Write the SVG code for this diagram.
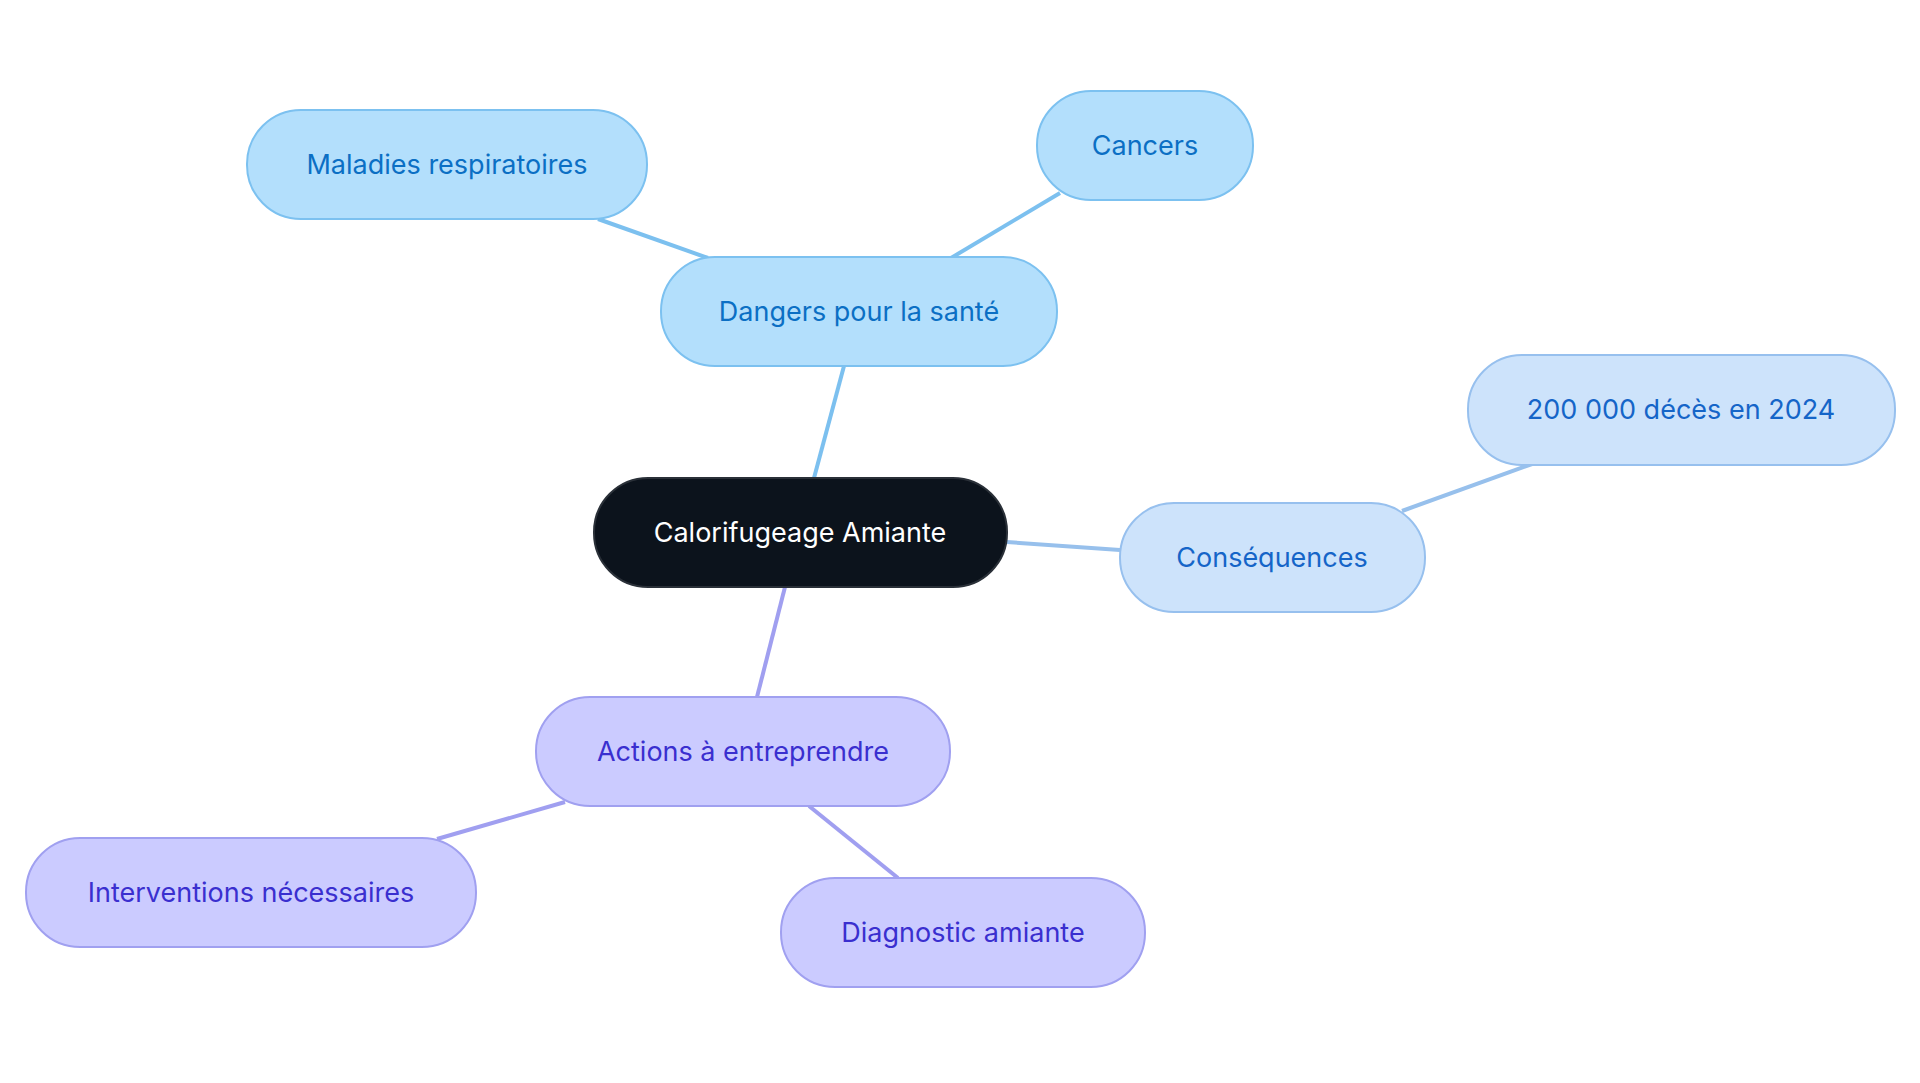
<svg xmlns="http://www.w3.org/2000/svg" width="1920" height="1083" viewBox="0 0 1920 1083">
<style>
text{font-family:Inter,"Noto Sans",sans-serif;font-size:27px;text-anchor:middle;dominant-baseline:central}
.b rect{fill:#b3dffc;stroke:#7cc1f0;stroke-width:2}.b text{fill:#0b6fc4}
.c rect{fill:#cde3fb;stroke:#97c0ee;stroke-width:2}.c text{fill:#1565c8}
.p rect{fill:#cbcbff;stroke:#a0a0f0;stroke-width:2}.p text{fill:#3a2fcf}
.e line{stroke-width:4}
</style>
<rect width="1920" height="1083" fill="#fff"/>
<g id="connectors" class="e">
<line x1="814" y1="478" x2="844" y2="366" stroke="#7cc0ef"/>
<line x1="708" y1="258" x2="598" y2="219" stroke="#7cc0ef"/>
<line x1="951" y1="258" x2="1060" y2="193" stroke="#7cc0ef"/>
<line x1="1007" y1="542" x2="1120" y2="550" stroke="#97c0ec"/>
<line x1="1402" y1="511" x2="1532" y2="464" stroke="#97c0ec"/>
<line x1="785" y1="587" x2="757" y2="697" stroke="#a09ff0"/>
<line x1="565" y1="802" x2="437" y2="839" stroke="#a09ff0"/>
<line x1="809" y1="806" x2="898" y2="878" stroke="#a09ff0"/>
</g>
<g id="center"><rect x="594" y="478" width="413" height="109" rx="54" fill="#0c131c" stroke="#2a3038" stroke-width="2"/><text x="800" y="532" fill="#fff">Calorifugeage Amiante</text></g>
<g id="dangers" class="b"><rect x="661" y="257" width="396" height="109" rx="54"/><text x="859" y="311">Dangers pour la santé</text></g>
<g id="maladies" class="b"><rect x="247" y="110" width="400" height="109" rx="54"/><text x="447" y="164">Maladies respiratoires</text></g>
<g id="cancers" class="b"><rect x="1037" y="91" width="216" height="109" rx="54"/><text x="1145" y="145">Cancers</text></g>
<g id="consequences" class="c"><rect x="1120" y="503" width="305" height="109" rx="54"/><text x="1272" y="557">Conséquences</text></g>
<g id="deces" class="c"><rect x="1468" y="355" width="427" height="110" rx="54"/><text x="1681" y="409">200 000 décès en 2024</text></g>
<g id="actions" class="p"><rect x="536" y="697" width="414" height="109" rx="54"/><text x="743" y="751">Actions à entreprendre</text></g>
<g id="interventions" class="p"><rect x="26" y="838" width="450" height="109" rx="54"/><text x="251" y="892">Interventions nécessaires</text></g>
<g id="diagnostic" class="p"><rect x="781" y="878" width="364" height="109" rx="54"/><text x="963" y="932">Diagnostic amiante</text></g>
</svg>
